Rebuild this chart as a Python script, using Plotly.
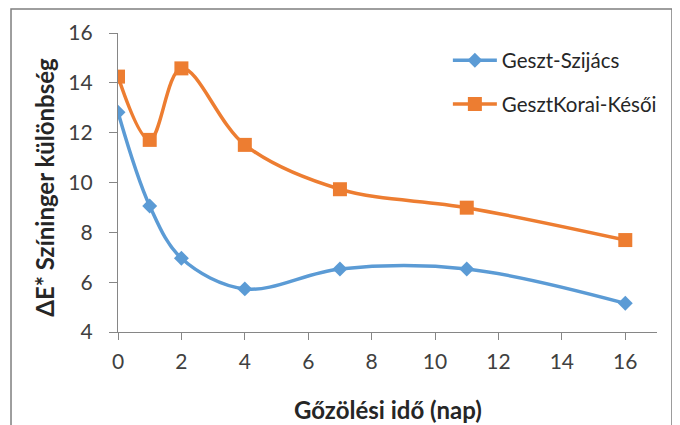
import plotly.graph_objects as go

days = [0, 1, 2, 4, 7, 11, 16]
geszt_szijacs = [12.82, 9.06, 6.96, 5.73, 6.53, 6.53, 5.15]
geszt_korai_kesoi = [14.25, 11.71, 14.58, 11.51, 9.73, 8.99, 7.69]
series_names = ["Geszt-Szijács", "GesztKorai-Késői"]
x_title = "Gőzölési idő (nap)"
y_title = "ΔE* Színinger különbség"
x_ticks = [0, 2, 4, 6, 8, 10, 12, 14, 16]
y_ticks = [4, 6, 8, 10, 12, 14, 16]

BLUE = "#5B9BD5"
ORANGE = "#ED7D31"
AXIS = "#868686"
FONT = "Lato, 'Open Sans', sans-serif"

fig = go.Figure()
fig.add_trace(go.Scatter(
    x=days, y=geszt_szijacs, name=series_names[0], mode="lines+markers",
    line=dict(color=BLUE, width=3.5, shape="spline", smoothing=1),
    marker=dict(symbol="diamond", size=11.5, color=BLUE),
    legendgroup="a",
))
fig.add_trace(go.Scatter(
    x=days, y=geszt_korai_kesoi, name=series_names[1], mode="lines+markers",
    line=dict(color=ORANGE, width=3.5, shape="spline", smoothing=1),
    marker=dict(symbol="square", size=14, color=ORANGE),
    legendgroup="b",
))

fig.update_layout(
    width=672, height=417,
    margin=dict(l=110, r=23, t=25, b=93),
    paper_bgcolor="white", plot_bgcolor="white",
    font=dict(family=FONT, color="#262626"),
    showlegend=True,
    legend=dict(
        x=0.612, y=0.975, xanchor="left", yanchor="top",
        font=dict(size=20.5, family=FONT, color="#262626"),
        bgcolor="rgba(0,0,0,0)", tracegroupgap=14,
        traceorder="grouped", itemwidth=44,
    ),
    xaxis=dict(
        range=[0, 17], tickvals=x_ticks, showgrid=False, zeroline=False,
        showline=True, linecolor=AXIS, linewidth=1.2,
        ticks="outside", ticklen=7, tickcolor=AXIS, tickwidth=1.2,
        tickfont=dict(size=21, family=FONT, color="#404040"),
        ticklabelstandoff=4,
    ),
    yaxis=dict(
        range=[4, 16], tickvals=y_ticks, showgrid=False, zeroline=False,
        showline=True, linecolor=AXIS, linewidth=1.2,
        ticks="outside", ticklen=8, tickcolor=AXIS, tickwidth=1.2,
        tickfont=dict(size=21, family=FONT, color="#404040"),
        ticklabelstandoff=12,
    ),
    annotations=[
        dict(text="<b>" + x_title + "</b>", xref="paper", yref="paper",
             x=0.5, y=-0.26, xanchor="center", yanchor="middle",
             showarrow=False, font=dict(size=24, family=FONT, color="#262626")),
        dict(text="<b>" + y_title + "</b>", xref="paper", yref="paper",
             x=-0.137, y=0.483, xanchor="center", yanchor="middle", textangle=-90,
             showarrow=False, font=dict(size=24, family=FONT, color="#262626")),
    ],
    shapes=[
        dict(type="rect", xref="paper", yref="paper",
             x0=-0.1985, x1=1.0278, y0=-0.35, y1=1.0803,
             line=dict(color="#7F7F7F", width=1.5), layer="below"),
    ],
)

fig.write_html("out.html")
